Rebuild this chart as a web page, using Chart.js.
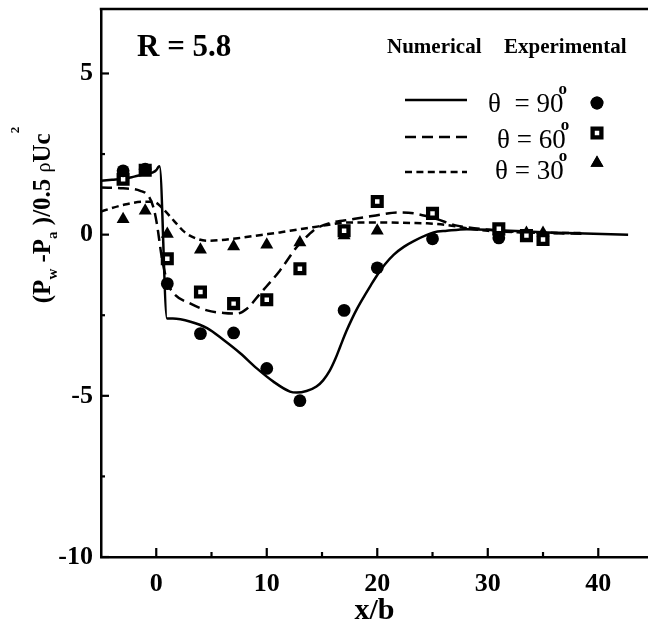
<!DOCTYPE html>
<html><head><meta charset="utf-8">
<script src="https://cdn.jsdelivr.net/npm/chart.js@4.4.0/dist/chart.umd.min.js"></script>
<style>html,body{margin:0;padding:0;background:#fff;}#wrap{width:648px;height:637px;}</style>
</head><body><div id="wrap"><canvas id="c" width="648" height="637"></canvas></div>
<script>
// ---- data ----
const numX90 = [-5,-4,-3,-2,-1,-0.3,0,0.2,0.3,0.97,1.5,3.1,4.6,6.1,7.6,9.1,10.6,12.1,12.7,13.6,14.5,15.1,15.7,16.2,16.65,17.2,17.7,18.2,18.8,19.4,20,20.7,21.5,22.4,23.3,25.1,26.3,28.1,30.8,35.4,38,42.7];
const numY90 = [1.67,1.7,1.73,1.8,1.88,1.93,2.0,2.1,2.12,-2.6,-2.6,-2.7,-2.9,-3.27,-3.68,-4.15,-4.56,-4.87,-4.9,-4.85,-4.71,-4.52,-4.22,-3.86,-3.47,-3.0,-2.62,-2.28,-1.92,-1.58,-1.25,-0.92,-0.62,-0.38,-0.2,0.07,0.12,0.17,0.14,0.07,0.04,0.0];
const numX60 = [-5,-3,-1.45,-0.7,-0.25,0.06,0.5,1.0,1.6,3.1,4.6,6.1,7.3,8.2,9.4,11.2,12.7,13.5,14.2,14.8,15.7,17,18.7,20.3,21.8,23.3,24.5,25.4,27.2,29.3,31,33,35,38.5];
const numY60 = [1.46,1.44,1.36,1.2,0.84,0.33,-0.7,-1.47,-1.83,-2.14,-2.35,-2.43,-2.45,-2.3,-1.83,-1.11,-0.39,-0.1,0.12,0.25,0.36,0.44,0.53,0.62,0.69,0.66,0.57,0.48,0.28,0.18,0.12,0.08,0.05,0.03];
const numX30 = [-5,-3,-1.15,-0.25,0.5,1.6,2.6,3.7,4.6,5.8,7.6,9.5,11.2,12.1,14.2,15.5,17.3,20.3,23,24.5,26.3,28.1,30,33,38.5];
const numY30 = [0.72,0.92,1.02,1.02,0.84,0.43,0.07,-0.13,-0.19,-0.17,-0.1,-0.01,0.07,0.12,0.23,0.3,0.38,0.38,0.36,0.35,0.3,0.2,0.12,0.07,0.05];
const expX90 = [-3,-1,1,4,7,10,13,17,20,25,31];
const expY90 = [1.98,2.03,-1.52,-3.07,-3.05,-4.15,-5.15,-2.35,-1.03,-0.13,-0.1];
const expX60 = [-3,-1,1,4,7,10,13,17,20,25,31,33.5,35];
const expY60 = [1.72,2.0,-0.75,-1.78,-2.14,-2.02,-1.06,0.12,1.03,0.66,0.18,-0.03,-0.15];
const expX30 = [-3,-1,1,4,7,10,13,17,20,31,33.5,35];
const expY30 = [0.48,0.74,0.02,-0.47,-0.37,-0.31,-0.24,-0.03,0.12,0.1,0.05,0.05];
const xTickLabels = [0,10,20,30,40];
const xMinorTicks = [5,15,25,35];
const yTickLabels = [-10,-5,0,5];
const yMinorTicks = [2.5,-2.5,-7.5];
const seriesNames = ['θ  = 90','θ = 60','θ = 30'];

const pts = (xs, ys) => xs.map((x,i)=>({x:x, y:ys[i]}));
const SERIF = '"Liberation Serif", "Times New Roman", serif';

const decor = {
  id:'decor',
  afterDraw(chart){
    const ctx = chart.ctx, ca = chart.chartArea;
    const xs = chart.scales.x, ys = chart.scales.y;
    ctx.save();
    ctx.strokeStyle = '#000'; ctx.fillStyle = '#000';
    ctx.lineWidth = 2.5;
    // top border
    ctx.beginPath(); ctx.moveTo(ca.left-1.25, ca.top); ctx.lineTo(ca.right, ca.top); ctx.stroke();
    // inward ticks
    ctx.lineWidth = 2.2;
    xTickLabels.forEach(v=>{const p=xs.getPixelForValue(v); ctx.beginPath(); ctx.moveTo(p,ca.bottom); ctx.lineTo(p,ca.bottom-9); ctx.stroke();});
    xMinorTicks.forEach(v=>{const p=xs.getPixelForValue(v); ctx.beginPath(); ctx.moveTo(p,ca.bottom); ctx.lineTo(p,ca.bottom-5); ctx.stroke();});
    yTickLabels.forEach(v=>{const p=ys.getPixelForValue(v); ctx.beginPath(); ctx.moveTo(ca.left,p); ctx.lineTo(ca.left+8,p); ctx.stroke();});
    yMinorTicks.forEach(v=>{const p=ys.getPixelForValue(v); ctx.beginPath(); ctx.moveTo(ca.left,p); ctx.lineTo(ca.left+4,p); ctx.stroke();});

    // R = 5.8
    ctx.textBaseline = 'alphabetic'; ctx.textAlign = 'left';
    ctx.font = 'bold 31px ' + SERIF;
    ctx.fillText('R = 5.8', 137, 56);
    // legend header
    ctx.font = 'bold 21px ' + SERIF;
    ctx.fillText('Numerical', 387, 53);
    ctx.fillText('Experimental', 504, 53);
    // legend rows
    const rows = [
      {ly:100, dash:[], tx:488, tb:112, my:103, style:'circle'},
      {ly:137, dash:[11,6], tx:497, tb:148, my:133, style:'rect'},
      {ly:172, dash:[7,4.4], tx:495, tb:179, my:163, style:'triangle'}
    ];
    rows.forEach((r,i)=>{
      ctx.lineWidth = 2.5; ctx.setLineDash(r.dash);
      ctx.beginPath(); ctx.moveTo(405, r.ly); ctx.lineTo(467, r.ly); ctx.stroke();
      ctx.setLineDash([]);
      ctx.font = '27px ' + SERIF;
      ctx.fillText(seriesNames[i], r.tx, r.tb);
      const w = ctx.measureText(seriesNames[i]).width;
      ctx.font = 'bold 17px ' + SERIF;
      ctx.fillText('o', r.tx + w - 5, r.tb - 18);
      const ds = chart.data.datasets[i+3];
      Chart.helpers.drawPoint(ctx, {pointStyle: r.style, radius: ds.pointRadius, rotation:0, borderWidth: ds.pointBorderWidth}, 597, r.my);
      ctx.fillStyle = ds.pointBackgroundColor; ctx.strokeStyle = '#000'; ctx.lineWidth = ds.pointBorderWidth;
      if (r.style !== 'rect') { ctx.fill(); } else { ctx.fill(); ctx.stroke(); }
      ctx.fillStyle = '#000';
    });

    // y-axis title
    ctx.save();
    ctx.translate(50, 215);
    ctx.rotate(-Math.PI/2);
    const B = 'bold 25px ' + SERIF, S = 'bold 15px ' + SERIF;
    const parts = [
      {t:'(P', f:B, dy:0}, {t:'w', f:S, dy:7}, {t:' -P', f:B, dy:0}, {t:'a', f:S, dy:7},
      {t:' )/0.5 ', f:B, dy:0}, {t:'ρ', f:'20px ' + SERIF, dy:0}, {t:'Uc', f:B, dy:0}, {t:'2', f:'bold 13px ' + SERIF, dy:-31}
    ];
    let total = 0;
    parts.forEach(p=>{ctx.font=p.f; p.w = ctx.measureText(p.t).width; total += p.w;});
    let x0 = -total/2;
    parts.forEach(p=>{ctx.font=p.f; ctx.fillText(p.t, x0, p.dy); if (p.t !== '2') x0 += p.w;});
    ctx.restore();
    ctx.restore();
  }
};

new Chart(document.getElementById('c'), {
  type:'scatter',
  data:{datasets:[
    {label:'num90', data:pts(numX90,numY90), showLine:true, borderColor:'#000', borderWidth:2.5, pointRadius:0, cubicInterpolationMode:'monotone', order:5},
    {label:'num60', data:pts(numX60,numY60), showLine:true, borderColor:'#000', borderWidth:2.5, borderDash:[11,6], pointRadius:0, cubicInterpolationMode:'monotone', order:4},
    {label:'num30', data:pts(numX30,numY30), showLine:true, borderColor:'#000', borderWidth:2.5, borderDash:[7,4.4], pointRadius:0, cubicInterpolationMode:'monotone', order:3},
    {label:'exp90', data:pts(expX90,expY90), pointStyle:'circle', pointRadius:6.4, pointBackgroundColor:'#000', pointBorderColor:'#000', pointBorderWidth:0, order:0},
    {label:'exp60', data:pts(expX60,expY60), pointStyle:'rect', pointRadius:6.2, pointBackgroundColor:'#fff', pointBorderColor:'#000', pointBorderWidth:4.3, order:1},
    {label:'exp30', data:pts(expX30,expY30), pointStyle:'triangle', pointRadius:7.5, pointBackgroundColor:'#000', pointBorderColor:'#000', pointBorderWidth:0, order:2}
  ]},
  options:{
    responsive:false, animation:false, devicePixelRatio:1,
    layout:{autoPadding:false, padding:{top:9,right:0,left:0,bottom:0}},
    plugins:{legend:{display:false}, tooltip:{enabled:false}},
    scales:{
      x:{type:'linear', min:-5, max:44.5,
        afterBuildTicks:s=>{s.ticks = xTickLabels.map(v=>({value:v}));},
        afterFit:s=>{s.height = 80; s.paddingLeft = 0; s.paddingRight = 0;},
        grid:{display:false, drawTicks:false},
        border:{display:true, color:'#000', width:2.5},
        ticks:{color:'#000', font:{family:SERIF, size:26, weight:'bold'}, padding:12, maxRotation:0, autoSkip:false},
        title:{display:true, text:'x/b', color:'#000', font:{family:SERIF, size:30, weight:'bold'}, padding:{top:0,bottom:8}}
      },
      y:{type:'linear', min:-10, max:7,
        afterBuildTicks:s=>{s.ticks = yTickLabels.map(v=>({value:v}));},
        afterFit:s=>{s.width = 101; s.paddingTop = 0; s.paddingBottom = 0;},
        grid:{display:false, drawTicks:false},
        border:{display:true, color:'#000', width:2.5},
        ticks:{color:'#000', font:{family:SERIF, size:26, weight:'bold'}, padding:8, autoSkip:false}
      }
    }
  },
  plugins:[decor]
});
</script></body></html>
